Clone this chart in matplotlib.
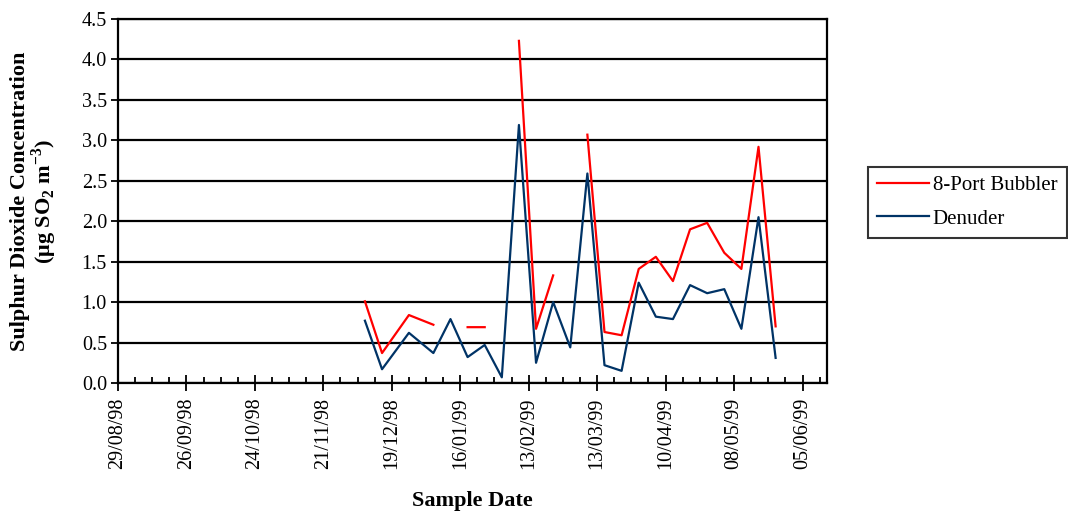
import numpy as np
import pandas as pd
import matplotlib
matplotlib.use("Agg")
import matplotlib.pyplot as plt
import matplotlib.dates as mdates

plt.rcParams['font.family'] = ['Liberation Serif', 'DejaVu Serif']
plt.rcParams['mathtext.fontset'] = 'custom'
plt.rcParams['mathtext.rm'] = 'Liberation Serif'
plt.rcParams['mathtext.bf'] = 'Liberation Serif:bold'

# ---- data ----
sample_dates = ['1998-12-08', '1998-12-15', '1998-12-26', '1999-01-05', '1999-01-12',
                '1999-01-19', '1999-01-26', '1999-02-02', '1999-02-09', '1999-02-16',
                '1999-02-23', '1999-03-02', '1999-03-09', '1999-03-16', '1999-03-23',
                '1999-03-30', '1999-04-06', '1999-04-13', '1999-04-20', '1999-04-27',
                '1999-05-04', '1999-05-11', '1999-05-18', '1999-05-25']
bubbler = [1.01, 0.37, 0.84, 0.72, np.nan, 0.69, 0.69, np.nan, 4.23, 0.67,
           1.33, np.nan, 3.07, 0.63, 0.59, 1.41, 1.56, 1.26, 1.90, 1.98,
           1.61, 1.41, 2.92, 0.70]
denuder = [0.77, 0.17, 0.62, 0.37, 0.79, 0.32, 0.47, 0.07, 3.19, 0.25,
           1.00, 0.44, 2.59, 0.22, 0.15, 1.24, 0.82, 0.79, 1.21, 1.11,
           1.16, 0.67, 2.05, 0.31]
tick_dates = ['1998-08-29', '1998-09-26', '1998-10-24', '1998-11-21', '1998-12-19',
              '1999-01-16', '1999-02-13', '1999-03-13', '1999-04-10', '1999-05-08',
              '1999-06-05']
series_names = ['8-Port Bubbler', 'Denuder']
x_min, x_max = '1998-08-29', '1999-06-15'
y_ticks = [0.0, 0.5, 1.0, 1.5, 2.0, 2.5, 3.0, 3.5, 4.0, 4.5]

dates = pd.to_datetime(sample_dates)
tdates = pd.to_datetime(tick_dates)

fig = plt.figure(figsize=(10.68, 5.14), dpi=100)
ax = fig.add_axes([0.1105, 0.2549, 0.6638, 0.7081])

for y in y_ticks:
    ax.axhline(y, color='black', lw=1.6, zorder=1)

ax.plot(dates, bubbler, color='#ff0000', lw=1.6, label=series_names[0], zorder=3)
ax.plot(dates, denuder, color='#003366', lw=1.6, label=series_names[1], zorder=3)

ax.set_ylim(0, 4.5)
ax.set_yticks(y_ticks)
ax.set_yticklabels([f'{v:.1f}' for v in y_ticks])
ax.set_xlim(pd.Timestamp(x_min), pd.Timestamp(x_max))
ax.xaxis.set_major_locator(matplotlib.ticker.FixedLocator(mdates.date2num(tdates)))
ax.xaxis.set_major_formatter(mdates.DateFormatter('%d/%m/%y'))
minor = pd.date_range(x_min, x_max, freq='7D')
ax.xaxis.set_minor_locator(matplotlib.ticker.FixedLocator(mdates.date2num(minor)))

for s in ax.spines.values():
    s.set_color('black')
    s.set_linewidth(1.6)

ax.tick_params(axis='y', which='major', direction='out', length=5, width=1.3,
               labelsize=14.5, pad=3)
ax.tick_params(axis='x', which='major', direction='inout', length=11, width=1.3,
               labelsize=14.5, pad=5, labelrotation=90)
ax.tick_params(axis='x', which='minor', direction='in', length=4, width=1.3)

ax.set_xlabel('Sample Date', fontsize=16, fontweight='bold', labelpad=16)
ax.set_ylabel('Sulphur Dioxide Concentration\n(μg SO$_\\mathbf{2}$ m$^{\\mathbf{-3}}$)',
              fontsize=16, fontweight='bold', labelpad=16, linespacing=1.0)

leg = fig.legend(loc='upper left', bbox_to_anchor=(0.8127, 0.676), fontsize=15,
                 frameon=True, fancybox=False, edgecolor='black', handlelength=2.5,
                 handletextpad=0.15, borderpad=0.45, labelspacing=0.65,
                 borderaxespad=0)
leg.get_frame().set_linewidth(1.5)

fig.savefig('out.png', dpi=100, facecolor='white')
